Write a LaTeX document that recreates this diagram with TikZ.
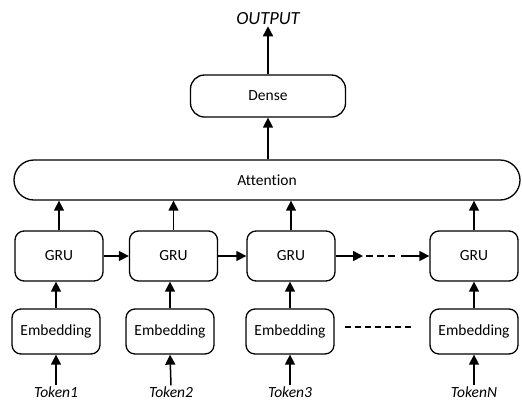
\documentclass[tikz,border=0pt]{standalone}
\usepackage{fontspec}
\setmainfont{Carlito}[Ligatures=NoCommon]
\usetikzlibrary{arrows.meta,calc}
\begin{document}
\begin{tikzpicture}[x=1pt,y=-1pt,
  box/.style={draw, line width=1.3pt, rounded corners=9pt, inner sep=0pt, align=center},
  arr/.style={line width=1.5pt, -{Triangle[length=10pt,width=10pt]}},
  lab/.style={inner sep=1pt, font=\itshape}]
\useasboundingbox (0,0) rectangle (522,400);
\fontsize{15.5}{18}\selectfont
\node[lab, font=\itshape\fontsize{18.5}{21}\selectfont] (out) at (268,19) {OUTPUT};
\node[box, minimum width=155pt, minimum height=42pt, rounded corners=14pt] (dense) at (268,96) {Dense};
\node[box, minimum width=506pt, minimum height=40pt, rounded corners=20pt] (att) at (267,180) {Attention};
\foreach \n/\x in {1/59,2/173.5,3/291,4/474}{
  \node[box, minimum width=88pt, minimum height=50pt] (gru\n) at (\x,256) {GRU};
}
\foreach \n/\x in {1/56,2/170,3/290,4/474}{
  \node[box, minimum width=88pt, minimum height=45pt] (emb\n) at (\x,331.5) {Embedding};
}
\node[lab] (t1) at (56,392) {Token1};
\node[lab] (t2) at (171,392) {Token2};
\node[lab] (t3) at (290,392) {Token3};
\node[lab] (t4) at (474,392) {TokenN};
\foreach \n in {1,2,3,4}{
  \draw[arr] (t\n.north) -- (emb\n.south);
  \draw[arr] (emb\n.north) -- (emb\n.north |- gru\n.south);
  \draw[arr] (gru\n.north) -- (gru\n.north |- att.south);
}
\draw[arr] (gru1.east) -- (gru2.west);
\draw[arr] (gru2.east) -- (gru3.west);
\coordinate (d1) at (363,256);
\coordinate (d2) at (401,256);
\draw[arr] (gru3.east) -- (d1);
\draw[line width=1.5pt, dash pattern=on 7pt off 4pt] ($(d1)+(3,0)$) -- ($(d2)+(-3,0)$);
\draw[arr] (d2) -- (gru4.west);
\coordinate (e1) at (345,327);
\coordinate (e2) at (413,327);
\draw[line width=1.3pt, dash pattern=on 6pt off 4pt] (e1) -- (e2);
\draw[arr] (dense.south |- att.north) -- (dense.south);
\draw[arr] (dense.north) -- (out.south);
\end{tikzpicture}
\end{document}
